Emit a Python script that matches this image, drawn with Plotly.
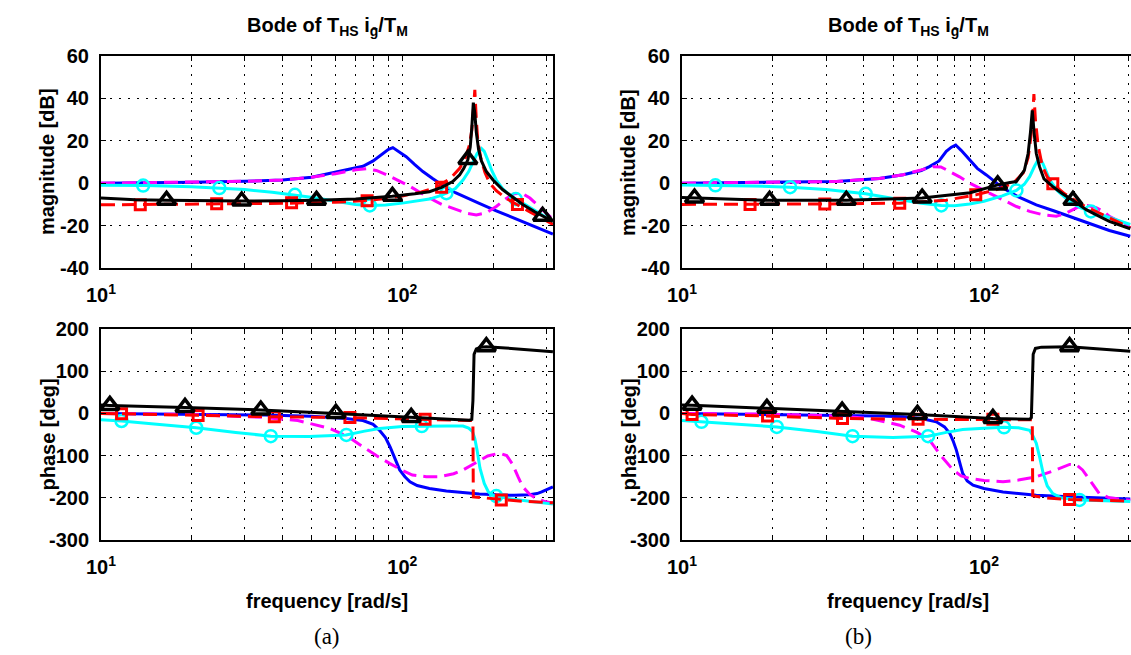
import plotly.graph_objects as go

W, H = 1131, 655

# ================= panel (a) : magnitude [dB] =================
a_mag_blue_f = [10, 15, 20, 30, 40, 50, 57.5, 65, 74, 80, 86, 90, 93, 97, 103, 110, 117, 126, 136, 150, 159, 180, 205, 235, 264, 290, 316]
a_mag_blue = [0, 0.2, 0.4, 0.9, 1.5, 2.8, 4.7, 6.2, 8, 10.5, 14, 16, 16.8, 15, 12.5, 8.8, 5.5, 2.2, -1, -4.5, -6, -9.5, -13, -16.5, -19.5, -22, -24]

a_mag_mag_f = [10, 20, 30, 40, 50, 60, 70, 76, 82, 88, 95, 106, 115, 123, 135, 151, 165, 176, 190, 205, 220, 235, 250, 265, 285, 300, 316]
a_mag_mag = [0, 0.4, 0.9, 1.5, 2.8, 4.5, 6.3, 6.8, 6, 4.2, 2, -1.5, -4.5, -7, -10, -12.5, -14.3, -15, -14, -11, -7.5, -5, -4.8, -7, -11, -14, -17]

a_mag_cyan_f = [10, 14, 20, 25, 30, 37, 44, 52, 60, 70, 78, 88, 100, 112, 123, 133, 140, 150, 159, 166, 171, 177, 183, 187, 192, 198, 205, 215, 225, 238, 255, 275, 295, 316]
a_mag_cyan = [-1, -1.1, -1.7, -2.3, -3, -4.3, -5.5, -7, -8.5, -10, -10.5, -10.3, -9.4, -8.5, -7.5, -6, -4.7, -2.5, 1.5, 5.5, 9.4, 14, 16.4, 15, 11, 6, 1.5, -2.5, -5, -7.5, -10, -13, -15.5, -18]

a_mag_red_f = [10, 20, 30, 40, 50, 60, 73, 85, 100, 115, 130, 145, 155, 162, 167, 170, 172, 174, 176, 178, 182, 188, 195, 205, 220, 241, 265, 290, 316]
a_mag_red = [-10.2, -10, -9.8, -9.5, -9.2, -9, -8.3, -7.5, -6, -4.2, -1.9, 2.5, 7, 12, 18, 25, 34, 44, 30, 20, 12, 5, 0, -3.5, -7, -10, -13.5, -16.5, -19.5]

a_mag_black_f = [10, 13, 16.5, 22, 29.3, 40, 51.9, 70, 92.6, 110, 123, 135, 147, 155, 160, 165, 168, 170, 172, 174, 176, 179, 183, 190, 200, 215, 235, 251, 275, 292, 316]
a_mag_black = [-7, -7.8, -8.1, -8.3, -8.4, -8.3, -8.1, -7.5, -6.2, -5, -4, -2, 0.8, 4, 7, 11, 17, 26, 38, 33, 24, 16, 10.5, 5.5, 1.5, -3, -7, -10, -13.5, -15.6, -18]

a_mag_circ_f = [13.8, 24.7, 44, 78, 140, 238]
a_mag_circ = [-1.1, -2.3, -5.5, -10.5, -4.7, -7.5]
a_mag_sq_f = [13.5, 24.2, 42.9, 76.4, 135, 241]
a_mag_sq = [-10.2, -9.7, -9.2, -8.3, -1.9, -10]
a_mag_tri_f = [16.5, 29.3, 51.9, 92.7, 165, 292]
a_mag_tri = [-8.1, -8.4, -8.1, -6.2, 11.2, -15.6]

# ================= panel (a) : phase [deg] =================
a_ph_blue_f = [10, 20, 35, 50, 57.5, 65, 74, 80, 84, 88, 91, 94, 98, 102, 106, 112, 123, 140, 159, 180, 205, 235, 264, 280, 290, 300, 316]
a_ph_blue = [0, -2.3, -4, -7, -9.5, -12, -17, -26, -40, -58, -79, -105, -134, -150, -162, -171, -178, -184, -188, -191, -193, -194, -193, -190, -186, -181, -174]

a_ph_mag_f = [10, 20, 34.5, 45, 57.5, 66, 74, 82, 91, 100, 108, 120, 133, 148, 159, 170, 180, 192, 205, 214, 222, 232, 242, 251, 265, 278, 295, 316]
a_ph_mag = [0, -2.5, -9.5, -17, -35.6, -55, -79, -100, -119, -135, -146, -150, -150, -143, -134, -122, -111, -101, -96, -96, -100, -120, -150, -174, -192, -202, -208, -213]

a_ph_cyan_f = [10, 11.7, 15, 20.7, 28, 36.6, 49, 65, 75, 84, 100, 116, 140, 159, 166, 171, 174, 177, 181, 187, 193, 200, 205, 230, 260, 316]
a_ph_cyan = [-15, -18, -25, -34, -45, -54, -55, -51, -42, -35.6, -31, -30, -30, -30, -35, -43, -60, -87, -130, -166, -186, -194, -196, -203, -208, -215]

a_ph_red_f = [10, 11.7, 21, 37.6, 67, 119, 150, 171.5, 172, 185, 213, 250, 316]
a_ph_red = [0, -1, -5, -8, -10, -14, -16, -17, -198, -200, -205, -208, -212]

a_ph_black_f = [10, 10.7, 19, 33.9, 60, 106.6, 140, 160, 167, 170, 171.5, 173, 176, 182, 190, 220, 260, 316]
a_ph_black = [20, 19, 14, 8, 0, -9.5, -13, -15, -16, -14, 30, 140, 153, 157, 158, 155, 151, 146]

a_ph_circ_f = [11.7, 20.7, 36.6, 65.2, 116, 205]
a_ph_circ = [-18, -34, -54, -51, -30, -196]
a_ph_sq_f = [11.7, 21, 37.6, 67, 119, 213]
a_ph_sq = [-1, -5, -8, -10, -14, -205]
a_ph_tri_f = [10.7, 19, 33.9, 60.2, 107, 190]
a_ph_tri = [19, 14, 8, 0, -9.5, 158]

# ================= panel (b) : magnitude [dB] =================
b_mag_blue_f = [10, 20, 32.5, 45, 54, 62, 66, 71, 75, 78, 80.6, 84, 89.6, 95, 101.8, 115.6, 130, 149, 170, 192, 225, 260, 305]
b_mag_blue = [0, 0.3, 0.8, 2.2, 4, 6, 7.8, 10.5, 15, 17, 18, 15.5, 11, 7, 3.9, -2.3, -6.5, -10.2, -13, -15.6, -19, -22.3, -25]

b_mag_mag_f = [10, 20, 32.5, 45, 54, 62, 67.8, 72, 77, 83, 89.6, 100, 115.6, 128, 141.6, 158, 173.5, 185, 192, 207, 220, 235, 250, 260, 280, 305]
b_mag_mag = [0, 0.3, 0.8, 2.2, 4, 6.3, 7.8, 7.7, 5.5, 3, 0, -3.5, -7.8, -11, -13.3, -15, -15.6, -14.5, -13.3, -11, -10.5, -11.5, -13.5, -15.6, -18, -21]

b_mag_cyan_f = [10, 12.9, 17, 22.8, 30, 40.6, 52, 62, 72.2, 80, 89.6, 100, 115, 128, 136, 141.6, 147, 152.7, 157, 165, 175, 192, 208, 226, 260, 305]
b_mag_cyan = [-0.8, -1, -1.3, -1.9, -3, -5, -7.5, -9.5, -10.5, -10.6, -9.8, -8.5, -6, -3.4, -0.5, 3.1, 8, 12.2, 9, 1.6, -3.5, -8.6, -11.5, -13.3, -16.4, -19.5]

b_mag_red_f = [10, 16.8, 29.7, 52.6, 75, 93.9, 110, 125, 135, 140, 143, 145, 146.3, 148, 151, 156, 162, 169, 185, 210, 240, 270, 305]
b_mag_red = [-10, -10, -9.8, -9.4, -8, -5.5, -3, 0, 5, 12, 22, 32, 42, 30, 18, 8, 3, -0.3, -5, -10, -14, -17.5, -21]

b_mag_black_f = [10, 11, 19.5, 35, 62.4, 90, 111, 122, 128, 136, 140, 142.5, 144.5, 146.5, 149, 152.7, 158, 169, 182, 197, 218, 240, 260, 305]
b_mag_black = [-6.8, -7, -8.1, -8.1, -7, -4.5, -0.8, 0.3, 0.8, 6, 14, 24, 34.4, 24, 14, 7.8, 2, -1.6, -5, -8.1, -12.5, -15.5, -18, -21.5]

b_mag_circ_f = [12.9, 22.8, 40.6, 72.2, 128, 226]
b_mag_circ = [-1, -1.9, -5, -10.5, -3.4, -13.3]
b_mag_sq_f = [16.8, 29.7, 52.6, 93.9, 169]
b_mag_sq = [-10, -9.8, -9.4, -5.5, -0.3]
b_mag_tri_f = [11, 19.5, 35, 62.4, 111, 197]
b_mag_tri = [-7, -8.1, -8.1, -7, -0.8, -8.1]

# ================= panel (b) : phase [deg] =================
b_ph_blue_f = [10, 20, 32.5, 45, 54, 62, 69.5, 74, 77, 79, 81, 83, 85, 88, 92, 100, 115.6, 130, 149, 200, 250, 305]
b_ph_blue = [0, -2, -4, -6, -8, -12, -20, -32, -47, -65, -87, -115, -142, -160, -170, -178, -186, -190, -194, -198, -201, -203]

b_ph_mag_f = [10, 20, 32, 41.9, 52.6, 60, 66, 72, 79, 84, 89.6, 100, 115.6, 130, 149, 170, 192, 203, 212, 225, 241, 260, 305]
b_ph_mag = [0, -2, -6, -12, -28, -45, -63, -100, -134, -148, -154, -159, -162, -158, -150, -136, -121, -123, -134, -160, -190, -200, -206]

b_ph_cyan_f = [10, 11.6, 15, 20.6, 28, 36.7, 50, 65.3, 75, 85, 100, 116.5, 130, 141.6, 145, 149, 153, 157, 162, 169, 180, 207, 250, 305]
b_ph_cyan = [-17, -20, -25, -32, -43, -54, -57, -54, -45, -38, -35, -33, -34, -40, -52, -71, -105, -142, -172, -190, -200, -205, -207, -209]

b_ph_red_f = [10, 10.8, 19.2, 34, 60.5, 107, 130, 144.5, 145, 160, 192, 250, 305]
b_ph_red = [0, -2.4, -6.3, -12, -14, -14, -15, -15, -195, -200, -204, -206, -208]

b_ph_black_f = [10, 10.8, 19.1, 33.9, 60.2, 107, 130, 141.6, 143.5, 144.5, 145.5, 148, 155, 192, 230, 260, 305]
b_ph_black = [20, 19.5, 12, 5.5, -2.4, -12, -13.5, -14, -10, 60, 140, 154, 157, 158, 154, 150, 147]

b_ph_circ_f = [11.6, 20.6, 36.7, 65.3, 116.5, 207]
b_ph_circ = [-20, -32, -54, -54, -33, -205]
b_ph_sq_f = [10.8, 19.2, 34, 60.5, 107, 192]
b_ph_sq = [-2.4, -6.3, -12, -14, -14, -204]
b_ph_tri_f = [10.8, 19.1, 33.9, 60.2, 107, 192]
b_ph_tri = [19.5, 12, 5.5, -2.4, -12, 158]

# ticks
x_tickvals = [10, 20, 30, 40, 50, 60, 70, 80, 90, 100, 200, 300]
x_ticktext = ["10<sup>1</sup>", "", "", "", "", "", "", "", "", "10<sup>2</sup>", "", ""]
mag_ticks = [-40, -20, 0, 20, 40, 60]
mag_ticktext = ["-40", "-20", "0", "20", "40", "60"]
ph_ticks = [-300, -200, -100, 0, 100, 200]
ph_ticktext = ["-300", "-200", "-100", "0", "100", "200"]

title_text = "Bode of T<sub>HS</sub> i<sub>g</sub>/T<sub>M</sub>"
title_bar = "-"
ylabel_mag = "magnitude [dB]"
ylabel_ph = "phase [deg]"
xlabel = "frequency [rad/s]"
panel_labels = ["(a)", "(b)"]

SANS = "Liberation Sans, Arial, Helvetica, sans-serif"
FS = 20

fig = go.Figure()

DASH = "14px,7px"
LW = 3


def add_panel(xa, ya, blue, mag, cyan, red, black, circ, sq, tri):
    common = dict(xaxis=xa, yaxis=ya, showlegend=False, hoverinfo="skip")
    fig.add_trace(go.Scatter(x=blue[0], y=blue[1], mode="lines",
                             line=dict(color="#0000ff", width=LW), **common))
    fig.add_trace(go.Scatter(x=mag[0], y=mag[1], mode="lines",
                             line=dict(color="#ff00ff", width=LW, dash=DASH), **common))
    fig.add_trace(go.Scatter(x=cyan[0], y=cyan[1], mode="lines",
                             line=dict(color="#00ffff", width=LW), **common))
    fig.add_trace(go.Scatter(x=circ[0], y=circ[1], mode="markers",
                             marker=dict(symbol="circle-open", size=12, color="#00ffff",
                                         line=dict(width=2.5, color="#00ffff")), **common))
    fig.add_trace(go.Scatter(x=red[0], y=red[1], mode="lines",
                             line=dict(color="#ff0000", width=LW, dash=DASH), **common))
    fig.add_trace(go.Scatter(x=sq[0], y=sq[1], mode="markers",
                             marker=dict(symbol="square-open", size=10, color="#ff0000",
                                         line=dict(width=3, color="#ff0000")), **common))
    fig.add_trace(go.Scatter(x=black[0], y=black[1], mode="lines",
                             line=dict(color="#000000", width=LW), **common))
    fig.add_trace(go.Scatter(x=tri[0], y=tri[1], mode="markers",
                             marker=dict(symbol="triangle-up-open", size=16, color="#000000",
                                         line=dict(width=3.5, color="#000000")), **common))


add_panel("x", "y",
          (a_mag_blue_f, a_mag_blue), (a_mag_mag_f, a_mag_mag), (a_mag_cyan_f, a_mag_cyan),
          (a_mag_red_f, a_mag_red), (a_mag_black_f, a_mag_black),
          (a_mag_circ_f, a_mag_circ), (a_mag_sq_f, a_mag_sq), (a_mag_tri_f, a_mag_tri))
add_panel("x2", "y2",
          (a_ph_blue_f, a_ph_blue), (a_ph_mag_f, a_ph_mag), (a_ph_cyan_f, a_ph_cyan),
          (a_ph_red_f, a_ph_red), (a_ph_black_f, a_ph_black),
          (a_ph_circ_f, a_ph_circ), (a_ph_sq_f, a_ph_sq), (a_ph_tri_f, a_ph_tri))
add_panel("x3", "y3",
          (b_mag_blue_f, b_mag_blue), (b_mag_mag_f, b_mag_mag), (b_mag_cyan_f, b_mag_cyan),
          (b_mag_red_f, b_mag_red), (b_mag_black_f, b_mag_black),
          (b_mag_circ_f, b_mag_circ), (b_mag_sq_f, b_mag_sq), (b_mag_tri_f, b_mag_tri))
add_panel("x4", "y4",
          (b_ph_blue_f, b_ph_blue), (b_ph_mag_f, b_ph_mag), (b_ph_cyan_f, b_ph_cyan),
          (b_ph_red_f, b_ph_red), (b_ph_black_f, b_ph_black),
          (b_ph_circ_f, b_ph_circ), (b_ph_sq_f, b_ph_sq), (b_ph_tri_f, b_ph_tri))


def px(x):
    return x / W


def py(y):
    return 1 - y / H


GRID = dict(showgrid=True, gridcolor="black", gridwidth=1, griddash="1.5px,7.5px")
tickfont = dict(family=SANS, size=FS, color="black", weight="bold")


def xax(x0, x1, rmax, anchor, mirror):
    return dict(type="log", domain=[px(x0), px(x1)], range=[1, rmax], anchor=anchor,
                tickmode="array", tickvals=x_tickvals, ticktext=x_ticktext,
                showline=True, linecolor="black", linewidth=2, mirror=mirror,
                ticks="inside", ticklen=5, tickwidth=1, tickcolor="black",
                tickfont=tickfont, zeroline=False, fixedrange=True, automargin=False,
                ticklabelstandoff=8, **GRID)


def yax(y0, y1, rng, ticks, text, anchor, mirror):
    return dict(domain=[py(y1), py(y0)], range=rng, anchor=anchor,
                tickmode="array", tickvals=ticks, ticktext=text,
                showline=True, linecolor="black", linewidth=2, mirror=mirror,
                ticks="inside", ticklen=5, tickwidth=1, tickcolor="black",
                tickfont=tickfont, zeroline=False, fixedrange=True, automargin=False,
                ticklabelstandoff=6, **GRID)


LX0, LX1 = 101, 553
RX0, RX1 = 682, 1131
R_RMAX = 1 + (RX1 - RX0) / 302.0
TY0, TY1 = 56, 268
BY0, BY1 = 329, 540

fig.update_layout(
    width=W, height=H, margin=dict(l=0, r=0, t=0, b=0, autoexpand=False),
    paper_bgcolor="white", plot_bgcolor="white", showlegend=False,
    xaxis=xax(LX0, LX1, 2.5, "y", "allticks"),
    xaxis2=xax(LX0, LX1, 2.5, "y2", "allticks"),
    xaxis3=xax(RX0, RX1, R_RMAX, "y3", "allticks"),
    xaxis4=xax(RX0, RX1, R_RMAX, "y4", "allticks"),
    yaxis=yax(TY0, TY1, [-40, 60], mag_ticks, mag_ticktext, "x", "allticks"),
    yaxis2=yax(BY0, BY1, [-300, 200], ph_ticks, ph_ticktext, "x2", "allticks"),
    yaxis3=yax(TY0, TY1, [-40, 60], mag_ticks, mag_ticktext, "x3", False),
    yaxis4=yax(BY0, BY1, [-300, 200], ph_ticks, ph_ticktext, "x4", False),
)

textfont = dict(family=SANS, size=FS, color="black", weight="bold")
ann = []
for cx, lab, lx, bx in [(327, panel_labels[0], 47, 327), (908, panel_labels[1], 628, 858)]:
    ann.append(dict(x=px(cx), y=py(26), xref="paper", yref="paper", text=title_text,
                    showarrow=False, font=textfont, xanchor="center", yanchor="middle"))
    ann.append(dict(x=px(cx + 47), y=py(27), xref="paper", yref="paper", text=title_bar,
                    showarrow=False, font=dict(family=SANS, size=14, color="black", weight="bold"),
                    xanchor="center", yanchor="middle"))
    ann.append(dict(x=px(lx), y=py((TY0 + TY1) / 2), xref="paper", yref="paper",
                    text=ylabel_mag, textangle=-90, showarrow=False, font=textfont,
                    xanchor="center", yanchor="middle"))
    ann.append(dict(x=px(lx), y=py((BY0 + BY1) / 2), xref="paper", yref="paper",
                    text=ylabel_ph, textangle=-90, showarrow=False, font=textfont,
                    xanchor="center", yanchor="middle"))
    ann.append(dict(x=px(cx), y=py(601), xref="paper", yref="paper", text=xlabel,
                    showarrow=False, font=textfont, xanchor="center", yanchor="middle"))
    ann.append(dict(x=px(bx), y=py(636), xref="paper", yref="paper", text=lab,
                    showarrow=False,
                    font=dict(family="Liberation Serif, Times New Roman, serif", size=23, color="black"),
                    xanchor="center", yanchor="middle"))
fig.update_layout(annotations=ann)

fig.write_html("out.html")
